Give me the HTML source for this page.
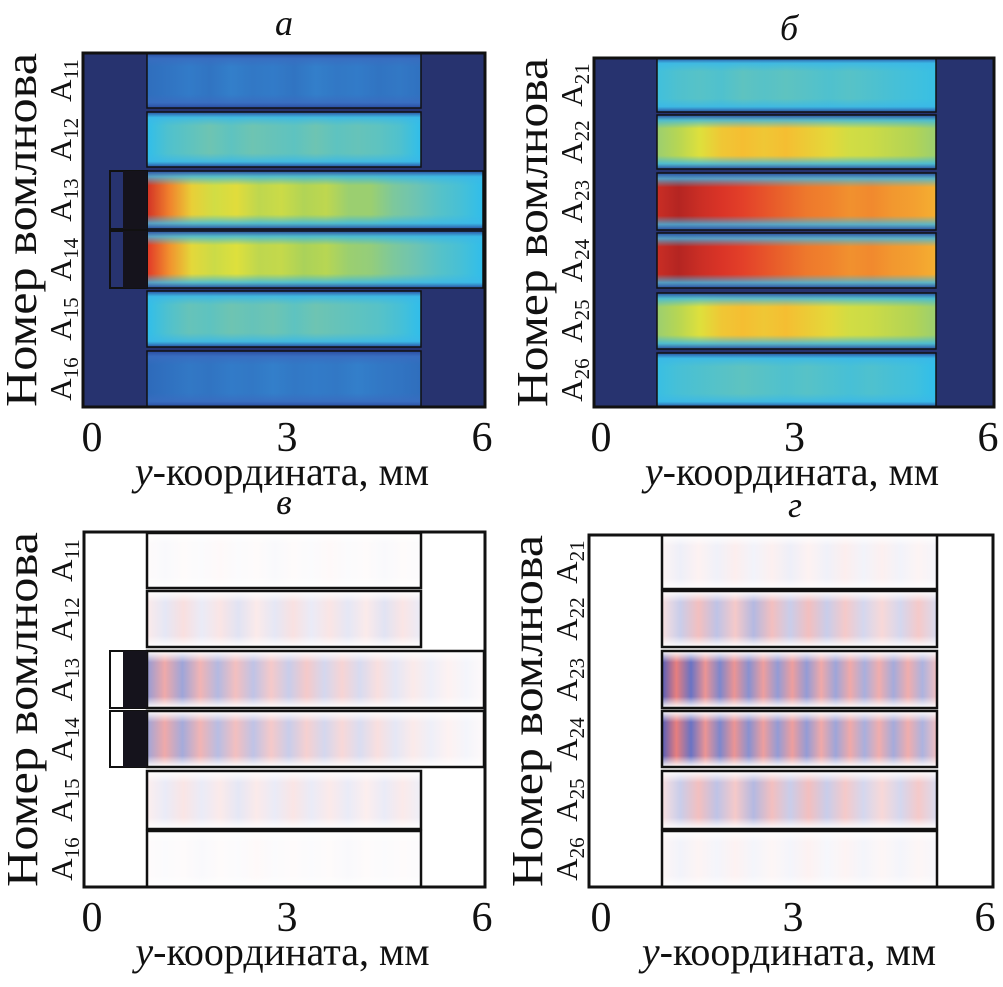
<!DOCTYPE html>
<html><head><meta charset="utf-8">
<style>
html,body{margin:0;padding:0;background:#fff;}
svg{display:block;font-family:"Liberation Serif",serif;}
</style></head>
<body>
<svg id="fig" width="1003" height="987" viewBox="0 0 1003 987" xmlns="http://www.w3.org/2000/svg">
<defs id="defs"></defs>
</svg>
<script>
// ---- data: intensity (0..1) along each waveguide, panels a and b ----
const rowsA_labels = ["11","12","13","14","15","16"];
const rowsB_labels = ["21","22","23","24","25","26"];
const intensA_11 = [0.26,0.28,0.30,0.28,0.31,0.29,0.30,0.28,0.31,0.29,0.30,0.28,0.29,0.27];
const intensA_12 = [0.42,0.46,0.48,0.50,0.48,0.50,0.49,0.48,0.50,0.48,0.49,0.48,0.46,0.42];
const intensA_13 = [0.92,0.82,0.70,0.64,0.67,0.61,0.63,0.59,0.61,0.56,0.56,0.52,0.50,0.47,0.45,0.42];
const intensA_14 = [0.90,0.80,0.68,0.63,0.66,0.61,0.62,0.58,0.60,0.56,0.55,0.52,0.50,0.47,0.45,0.42];
const intensA_15 = [0.42,0.46,0.49,0.48,0.50,0.49,0.50,0.48,0.50,0.49,0.48,0.47,0.45,0.42];
const intensA_16 = [0.25,0.27,0.29,0.28,0.30,0.29,0.31,0.29,0.30,0.29,0.31,0.29,0.28,0.26];
const intensB_21 = [0.44,0.46,0.47,0.46,0.48,0.47,0.48,0.47,0.46,0.47,0.46,0.45,0.44,0.43];
const intensB_22 = [0.56,0.60,0.66,0.72,0.74,0.72,0.74,0.71,0.68,0.64,0.63,0.61,0.59,0.56];
const intensB_23 = [0.93,0.96,0.93,0.91,0.89,0.87,0.85,0.83,0.82,0.80,0.81,0.79,0.78,0.76];
const intensB_24 = [0.93,0.96,0.93,0.91,0.89,0.87,0.85,0.83,0.82,0.80,0.81,0.79,0.78,0.76];
const intensB_25 = [0.56,0.60,0.66,0.72,0.74,0.72,0.74,0.71,0.68,0.64,0.63,0.61,0.59,0.56];
const intensB_26 = [0.43,0.45,0.46,0.47,0.48,0.47,0.46,0.47,0.46,0.45,0.46,0.45,0.44,0.42];
// ---- data: signed field (-1 blue .. +1 red), panels c and d ----
const fieldC_11 = [0.02,-0.03,0.02,-0.02,0.03,-0.02,0.02,-0.03,0.02,-0.02,0.03,-0.02,0.02,-0.03,0.02,-0.02];
const fieldC_12 = [0.1,-0.12,0.15,-0.1,0.12,-0.14,0.1,-0.12,0.14,-0.1,0.12,-0.12,0.1,-0.14,0.12,-0.1];
const fieldC_13 = [-0.5,0.4,-0.45,0.35,-0.35,0.3,-0.3,0.25,-0.25,0.25,-0.2,0.2,-0.18,0.15,-0.12,0.1,-0.08,0.06,-0.05,0.03];
const fieldC_14 = [-0.45,0.4,-0.42,0.35,-0.33,0.3,-0.3,0.25,-0.25,0.22,-0.2,0.18,-0.17,0.15,-0.12,0.1,-0.08,0.06,-0.05,0.03];
const fieldC_15 = [0.08,-0.1,0.12,-0.1,0.1,-0.12,0.1,-0.1,0.12,-0.1,0.1,-0.1,0.08,-0.1,0.1,-0.08];
const fieldC_16 = [0.02,-0.02,0.02,-0.03,0.02,-0.02,0.03,-0.02,0.02,-0.02,0.02,-0.03,0.02,-0.02,0.02,-0.02];
const fieldD_21 = [0.05,-0.08,0.06,-0.07,0.08,-0.06,0.07,-0.08,0.06,-0.07,0.08,-0.06,0.07,-0.06,0.05,-0.05];
const fieldD_22 = [0.15,-0.25,0.3,-0.3,0.25,-0.35,0.3,-0.25,0.3,-0.25,0.25,-0.2,0.18,-0.2,0.25,-0.18];
const fieldD_23 = [-0.8,0.6,-0.7,0.5,-0.6,0.5,-0.55,0.45,-0.5,0.45,-0.5,0.4,-0.45,0.4,-0.4,0.38,-0.42,0.38,-0.38,0.3];
const fieldD_24 = [-0.8,0.6,-0.7,0.5,-0.6,0.5,-0.55,0.45,-0.5,0.45,-0.5,0.4,-0.45,0.4,-0.4,0.38,-0.42,0.38,-0.38,0.3];
const fieldD_25 = [0.15,-0.25,0.3,-0.3,0.25,-0.35,0.3,-0.25,0.3,-0.25,0.25,-0.2,0.18,-0.2,0.25,-0.18];
const fieldD_26 = [0.04,-0.06,0.05,-0.05,0.06,-0.05,0.04,-0.05,0.06,-0.04,0.05,-0.05,0.04,-0.05,0.04,-0.04];
const xTicks = [0,3,6];
const xTickLabels = ["0","3","6"];

const NS="http://www.w3.org/2000/svg";
const svg=document.getElementById('fig'), defs=document.getElementById('defs');
let gid=0;
function mk(tag,attrs,parent){const e=document.createElementNS(NS,tag);for(const k in attrs)e.setAttribute(k,attrs[k]);(parent||svg).appendChild(e);return e;}
const CM=[[0,[39,51,111]],[0.22,[44,96,178]],[0.32,[52,130,205]],[0.42,[48,190,235]],[0.5,[110,196,178]],[0.58,[170,210,90]],[0.66,[222,224,60]],[0.74,[245,190,50]],[0.82,[240,130,45]],[0.9,[225,55,40]],[1,[150,25,30]]];
function jet(v){v=Math.max(0,Math.min(1,v));for(let i=1;i<CM.length;i++){if(v<=CM[i][0]){const a=CM[i-1],b=CM[i],t=(v-a[0])/(b[0]-a[0]);return 'rgb('+a[1].map((c,k)=>Math.round(c+(b[1][k]-c)*t)).join(',')+')';}}return 'rgb(150,25,30)';}
function rb(v){const a=Math.min(1,Math.abs(v));const c=v>=0?[215,40,40]:[40,55,170];return `rgb(${Math.round(255+(c[0]-255)*a)},${Math.round(255+(c[1]-255)*a)},${Math.round(255+(c[2]-255)*a)})`;}
function grad(vals,fn){const id='g'+(gid++);const g=mk('linearGradient',{id,x1:0,x2:1,y1:0,y2:0},defs);vals.forEach((v,i)=>mk('stop',{offset:i/(vals.length-1),'stop-color':fn(v)},g));return id;}
function vfade(col,col2){const id='v'+(gid++);const g=mk('linearGradient',{id,x1:0,x2:0,y1:0,y2:1},defs);
 const st=col2?[[0,col,1],[0.1,col2,0.8],[0.25,col2,0],[0.75,col2,0],[0.9,col2,0.8],[1,col,1]]:[[0,col,1],[0.2,col,0],[0.8,col,0],[1,col,1]];
 st.forEach(([o,c,a])=>mk('stop',{offset:o,'stop-color':c,'stop-opacity':a},g));return id;}

function panel(P){
 const g=mk('g',{});
 const xs=v=>P.x0+(P.x6-P.x0)*v/6;
 mk('rect',{x:P.L,y:P.T,width:P.R-P.L,height:P.B-P.T,fill:P.dark?'#27336f':'#fff'},g);
 P.rows.forEach((r,i)=>{
  const rg=mk('g',{},g);
  const w=(r.ext?P.extR:P.inR)-P.inL;
  const id=grad(r.vals,P.dark?jet:rb);
  mk('rect',{x:P.inL,y:r.y0,width:w,height:r.y1-r.y0,fill:`url(#${id})`},rg);
  const fid=P.dark?vfade('#2a4a9e', r.vals[3]>0.38?'#3ab8e8':'#3a6cc0'):vfade('#ffffff');
  mk('rect',{x:P.inL,y:r.y0,width:w,height:r.y1-r.y0,fill:`url(#${fid})`},rg);
  mk('rect',{x:P.inL,y:r.y0,width:w,height:r.y1-r.y0,fill:'none',stroke:'#111',"stroke-width":P.dark?1.5:2.5},rg);
  if(r.ext){
   mk('rect',{x:P.extL,y:r.y0,width:P.inL-P.extL,height:r.y1-r.y0,fill:P.dark?'#27336f':'#fff',stroke:'#111','stroke-width':2},rg);
   mk('rect',{x:123,y:r.y0,width:P.inL-123,height:r.y1-r.y0,fill:'#15131c'},rg);
  }
  const cy=(r.y0+r.y1)/2;
  const t=mk('text',{x:0,y:0,transform:`translate(${P.L-12},${cy}) rotate(-90)`,'text-anchor':'middle','font-size':31,fill:'#111'},g);
  
  t.textContent='A';const s=mk('tspan',{'font-size':21,dy:7},t);s.textContent=r.lab;
 });
 mk('rect',{x:P.L,y:P.T,width:P.R-P.L,height:P.B-P.T,fill:'none',stroke:'#111','stroke-width':3},g);
 xTicks.forEach((v,i)=>{const t=mk('text',{x:xs(v),y:P.B+44,'text-anchor':'middle','font-size':42,fill:'#111'},g);
  t.textContent=xTickLabels[i];});
 const xt=mk('text',{x:(P.L+P.R)/2-2,y:P.B+78,'text-anchor':'middle','font-size':40,fill:'#111'},g);
 
 const it=mk('tspan',{'font-style':'italic'},xt);it.textContent='y';const rest=mk('tspan',{},xt);rest.textContent='-координата, мм';
 const yt=mk('text',{x:0,y:0,transform:`translate(${P.L-47},${(P.T+P.B)/2}) rotate(-90)`,'text-anchor':'middle','font-size':44,fill:'#111',textLength:P.B-P.T,lengthAdjust:'spacingAndGlyphs'},g);
 yt.textContent='Номер вомлнова';
 const tt=mk('text',{x:P.tx,y:P.T-18,'text-anchor':'middle','font-size':36,'font-style':'italic',fill:'#111'},g);
 tt.textContent=P.title;
}
const ya=[[53,108],[112,167],[171,229],[231,288],[291,347],[351,407]];
const yb=[[58,112],[115,169],[173,230],[233,288],[293,349],[353,407]];
const yc=[[533,588],[591,647],[651,708],[711,767],[771,829],[831,887]];
const yd=[[535,589],[591,647],[651,708],[711,767],[771,829],[831,887]];
panel({name:'panel-a',title:'а',tx:284,dark:true,L:83,R:485,T:53,B:407,x0:92,x6:482,inL:147,inR:421,extL:110,extR:483,
 rows:[intensA_11,intensA_12,intensA_13,intensA_14,intensA_15,intensA_16].map((v,i)=>({vals:v,lab:rowsA_labels[i],y0:ya[i][0],y1:ya[i][1],ext:i==2||i==3}))});
panel({name:'panel-b',title:'б',tx:789,dark:true,L:594,R:994,T:58,B:407,x0:601,x6:988,inL:657,inR:936,
 rows:[intensB_21,intensB_22,intensB_23,intensB_24,intensB_25,intensB_26].map((v,i)=>({vals:v,lab:rowsB_labels[i],y0:yb[i][0],y1:yb[i][1],ext:false}))});
panel({name:'panel-c',title:'в',tx:284,dark:false,L:84,R:485,T:532,B:887,x0:92,x6:482,inL:147,inR:421,extL:110,extR:484,
 rows:[fieldC_11,fieldC_12,fieldC_13,fieldC_14,fieldC_15,fieldC_16].map((v,i)=>({vals:v,lab:rowsA_labels[i],y0:yc[i][0],y1:yc[i][1],ext:i==2||i==3}))});
panel({name:'panel-d',title:'г',tx:795,dark:false,L:589,R:993,T:535,B:887,x0:601,x6:985,inL:662,inR:937,
 rows:[fieldD_21,fieldD_22,fieldD_23,fieldD_24,fieldD_25,fieldD_26].map((v,i)=>({vals:v,lab:rowsB_labels[i],y0:yd[i][0],y1:yd[i][1],ext:false}))});
</script>
</body></html>
